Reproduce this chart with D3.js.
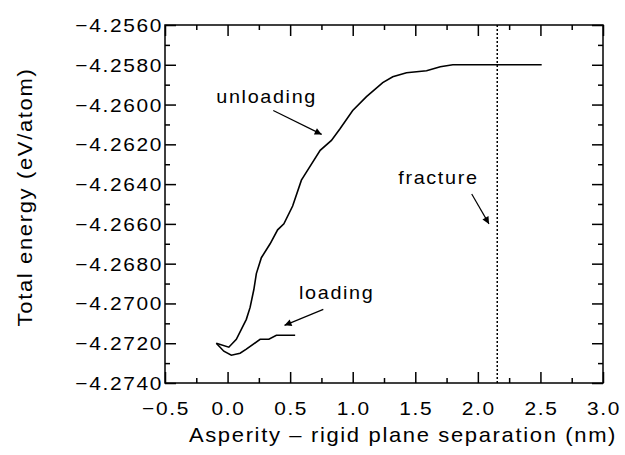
<!DOCTYPE html>
<html>
<head>
<meta charset="utf-8">
<script src="https://cdn.jsdelivr.net/npm/d3@7"></script>
<style>
  body { margin: 0; background: #fff; }
  text { font-family: "Liberation Sans", Arial, sans-serif; fill: #000; letter-spacing: 1.5px; }
</style>
</head>
<body>
<div id="chart"></div>
<script>
// Data
const unloadX = [-0.09, 0.01, 0.07, 0.11, 0.15, 0.18, 0.21, 0.23, 0.27, 0.34, 0.40, 0.45, 0.52, 0.59, 0.63, 0.74, 0.83, 0.90, 1.00, 1.11, 1.24, 1.32, 1.43, 1.59, 1.70, 1.80, 2.51];
const unloadY = [-4.2720, -4.2722, -4.2718, -4.2713, -4.2708, -4.2702, -4.2693, -4.2685, -4.2677, -4.2670, -4.2663, -4.2660, -4.2651, -4.2638, -4.2634, -4.2623, -4.2618, -4.2612, -4.2603, -4.2596, -4.2589, -4.2586, -4.2584, -4.2583, -4.2581, -4.2580, -4.2580];
const loadX = [-0.09, -0.03, 0.03, 0.10, 0.15, 0.26, 0.33, 0.39, 0.54];
const loadY = [-4.2720, -4.2724, -4.2726, -4.2725, -4.2723, -4.2718, -4.2718, -4.2716, -4.2716];
const fractureX = 2.155;

const xTicks = [-0.5, 0.0, 0.5, 1.0, 1.5, 2.0, 2.5, 3.0];
const yTicks = [-4.2560, -4.2580, -4.2600, -4.2620, -4.2640, -4.2660, -4.2680, -4.2700, -4.2720, -4.2740];

// annotations: label, text anchor point, arrow start, arrow tip (data units)
const notes = [
    { text: 'unloading', x: -0.09, y: -4.2599, x1: 0.365, y1: -4.2603, x2: 0.752, y2: -4.2615 },
    { text: 'fracture', x: 1.364, y: -4.2640, x1: 1.951, y1: -4.2645, x2: 2.089, y2: -4.2660 },
    { text: 'loading', x: 0.571, y: -4.2698, x1: 0.765, y1: -4.2703, x2: 0.455, y2: -4.2711 }
];

const margin = { top: 25, right: 22, bottom: 72, left: 165 };
const width = 625 - margin.left - margin.right;
const height = 455 - margin.top - margin.bottom;
const sx = 1.1; // glyphs in the picture are a little wide

const svg = d3.select('#chart')
    .append('svg')
    .attr('width', 625)
    .attr('height', 455);

const defs = svg.append('defs');
defs.append('marker')
    .attr('id', 'head')
    .attr('viewBox', '0 0 10 10')
    .attr('refX', 10).attr('refY', 5)
    .attr('markerWidth', 10).attr('markerHeight', 7)
    .attr('markerUnits', 'userSpaceOnUse')
    .attr('orient', 'auto')
    .append('path')
    .attr('d', 'M0,0 L10,5 L0,10 Z')
    .attr('fill', '#000');

const g = svg.append('g')
    .attr('transform', `translate(${margin.left}, ${margin.top})`);

const x = d3.scaleLinear().domain([-0.5, 3.0]).range([0, width]);
const y = d3.scaleLinear().domain([-4.2740, -4.2560]).range([height, 0]);

// minor ticks halfway between majors
const xMinor = d3.range(-0.25, 3.0, 0.5);
const yMinor = d3.range(-4.2730, -4.2560, 0.002);

// inward ticks on all four sides
g.append('g').attr('transform', `translate(0, ${height})`)
    .call(d3.axisBottom(x).tickValues(xTicks).tickSize(-11).tickFormat(''));
g.append('g').attr('transform', `translate(0, ${height})`)
    .call(d3.axisBottom(x).tickValues(xMinor).tickSize(-5).tickFormat(''));
g.append('g')
    .call(d3.axisTop(x).tickValues(xTicks).tickSize(-11).tickFormat(''));
g.append('g')
    .call(d3.axisTop(x).tickValues(xMinor).tickSize(-5).tickFormat(''));
g.append('g')
    .call(d3.axisLeft(y).tickValues(yTicks).tickSize(-11).tickFormat(''));
g.append('g')
    .call(d3.axisLeft(y).tickValues(yMinor).tickSize(-5).tickFormat(''));
g.append('g').attr('transform', `translate(${width}, 0)`)
    .call(d3.axisRight(y).tickValues(yTicks).tickSize(-11).tickFormat(''));
g.append('g').attr('transform', `translate(${width}, 0)`)
    .call(d3.axisRight(y).tickValues(yMinor).tickSize(-5).tickFormat(''));

g.selectAll('.domain').remove();
g.selectAll('.tick line').attr('stroke', '#000').attr('stroke-width', 1.5);

// frame
g.append('rect')
    .attr('width', width).attr('height', height)
    .attr('fill', 'none').attr('stroke', '#000').attr('stroke-width', 1.5);

// tick labels
const fx = d3.format('.1f');
const fy = d3.format('.4f');
g.selectAll('.xlab')
    .data(xTicks)
    .join('text')
    .attr('transform', d => `translate(${x(d) + 1}, ${height + 32}) scale(${sx}, 1)`)
    .attr('text-anchor', 'middle')
    .style('font-size', '19px')
    .text(d => fx(d));

g.selectAll('.ylab')
    .data(yTicks)
    .join('text')
    .attr('transform', d => `translate(-2, ${y(d) + 7}) scale(${sx}, 1)`)
    .attr('text-anchor', 'end')
    .style('font-size', '19px')
    .text(d => fy(d));

// axis titles
svg.append('text')
    .attr('transform', `translate(403, 442) scale(${sx}, 1)`)
    .attr('text-anchor', 'middle')
    .style('font-size', '20px')
    .text('Asperity – rigid plane separation (nm)');

svg.append('text')
    .attr('transform', `translate(31.5, 197) rotate(-90) scale(${sx}, 1)`)
    .attr('text-anchor', 'middle')
    .style('font-size', '20px')
    .text('Total energy (eV/atom)');

// fracture line
g.append('line')
    .attr('x1', x(fractureX)).attr('x2', x(fractureX))
    .attr('y1', 0).attr('y2', height)
    .attr('stroke', '#000').attr('stroke-width', 1.5)
    .attr('stroke-dasharray', '2,2');

// curves
const line = d3.line()
    .x(d => x(d[0]))
    .y(d => y(d[1]));

g.append('path')
    .datum(unloadX.map((v, i) => [v, unloadY[i]]))
    .attr('d', line)
    .attr('fill', 'none').attr('stroke', '#000').attr('stroke-width', 1.6);

g.append('path')
    .datum(loadX.map((v, i) => [v, loadY[i]]))
    .attr('d', line)
    .attr('fill', 'none').attr('stroke', '#000').attr('stroke-width', 1.6);

// annotations
g.selectAll('.note')
    .data(notes)
    .join('text')
    .attr('transform', d => `translate(${x(d.x)}, ${y(d.y)}) scale(${sx}, 1)`)
    .style('font-size', '18px')
    .text(d => d.text);

g.selectAll('.arrow')
    .data(notes)
    .join('line')
    .attr('x1', d => x(d.x1)).attr('y1', d => y(d.y1))
    .attr('x2', d => x(d.x2)).attr('y2', d => y(d.y2))
    .attr('stroke', '#000').attr('stroke-width', 1.2)
    .attr('marker-end', 'url(#head)');
</script>
</body>
</html>
